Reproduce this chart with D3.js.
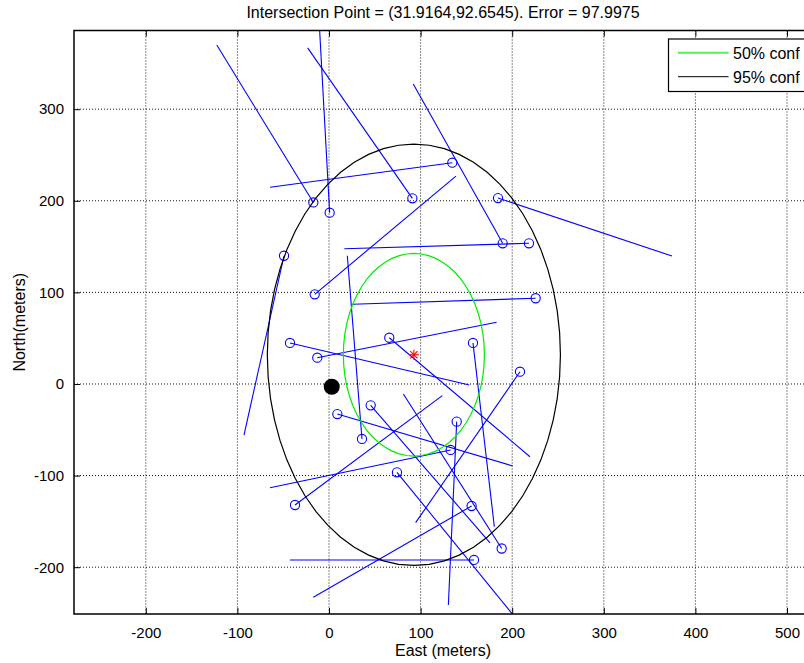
<!DOCTYPE html>
<html>
<head>
<meta charset="utf-8">
<script src="https://cdn.jsdelivr.net/npm/d3@7"></script>
<style>
  html, body { margin: 0; padding: 0; background: #fff; }
  svg { display: block; font-family: "Liberation Sans", Arial, sans-serif; }
</style>
</head>
<body>
<svg id="chart" width="804" height="663"></svg>
<script>
// Sensor positions (East, North) in meters
const sensorX = [-17.1, 0.7, 91, 134.6, 189.6, 184.5, -15.6, 218.3, -49.1, 36, 225.6, -42.6, -12.8,
                 65.8, 157.2, 208.5, 9.1, 45.5, 139.4, 188.5, -37.1, 132.8, 74.2, 155.7, 158.3];
const sensorY = [198.2, 187, 202.7, 241.6, 153.6, 203, 97.9, 153.6, 140, -60, 93.6, 44.8, 28.7,
                 50.5, 44.8, 13.4, -32.8, -23.3, -41.1, -179.6, -132.1, -72, -96.4, -133.2, -192.1];
// Far end of each bearing line
const bearingEndX = [-122.5, -11, -23.3, -64.4, 92, 374.5, 138.6, 16.7, -92.8, 20, 25.5, 153.2, 183,
                     219.4, 180.5, 94.6, 200.5, 175.8, 130.3, 81.2, 123.7, -64.4, 205, -17.1, -42.6];
const bearingEndY = [370, 400, 367, 214.7, 327.5, 139.7, 227, 147.7, -55.7, 140, 87, -1.1, 67.4,
                     -79.4, -155.8, -151.4, -89.5, -173.4, -241.3, -10.9, -12.7, -113.2, -257, -232.9, -192.1];

// Estimated intersection and true emitter location
const estimate = [92.6545, 31.9164];
const target = [3, -3];

// Confidence ellipses around the estimate
const confLabels = ["50% conf", "95% conf"];
const confRadiusX = [77, 160];
const confRadiusY = [110.6, 230];
const confColors = ["#00ee00", "#000000"];

const xTicks = [-200, -100, 0, 100, 200, 300, 400, 500];
const yTicks = [-200, -100, 0, 100, 200, 300];

const titleText = "Intersection Point = (31.9164,92.6545). Error = 97.9975";

const svg = d3.select("#chart");
const pLeft = 74, pTop = 30.5, pRight = 812, pBottom = 614;

const x = d3.scaleLinear().domain([-278.4, 527.3]).range([pLeft, pRight]);
const y = d3.scaleLinear().domain([-251.1, 385.9]).range([pBottom, pTop]);

svg.append("defs").append("clipPath").attr("id", "plotClip")
  .append("rect").attr("x", pLeft).attr("y", pTop).attr("width", pRight - pLeft).attr("height", pBottom - pTop);

// grid
const grid = svg.append("g");
grid.selectAll("line.gx").data(xTicks).join("line")
  .attr("x1", d => x(d)).attr("x2", d => x(d)).attr("y1", pTop).attr("y2", pBottom)
  .attr("stroke", "#111").attr("stroke-width", 1).attr("stroke-dasharray", "1,2");
grid.selectAll("line.gy").data(yTicks).join("line")
  .attr("x1", pLeft).attr("x2", pRight).attr("y1", d => y(d)).attr("y2", d => y(d))
  .attr("stroke", "#111").attr("stroke-width", 1).attr("stroke-dasharray", "1,2");

const plot = svg.append("g").attr("clip-path", "url(#plotClip)");

// bearing lines
plot.selectAll("line.bearing").data(sensorX).join("line")
  .attr("x1", (d, i) => x(sensorX[i])).attr("y1", (d, i) => y(sensorY[i]))
  .attr("x2", (d, i) => x(bearingEndX[i])).attr("y2", (d, i) => y(bearingEndY[i]))
  .attr("stroke", "#0000ff").attr("stroke-width", 1.1);

// sensor markers
plot.selectAll("circle.sensor").data(sensorX).join("circle")
  .attr("cx", (d, i) => x(sensorX[i])).attr("cy", (d, i) => y(sensorY[i]))
  .attr("r", 4.6).attr("fill", "none").attr("stroke", "#0000ff").attr("stroke-width", 1.1);

// confidence ellipses
const angles = d3.range(0, 61).map(k => k / 60 * 2 * Math.PI);
const ellLine = d3.line().x(d => x(d[0])).y(d => y(d[1]));
confLabels.forEach((lab, i) => {
  const pts = angles.map(t => [estimate[0] + confRadiusX[i] * Math.cos(t), estimate[1] + confRadiusY[i] * Math.sin(t)]);
  plot.append("path").attr("d", ellLine(pts)).attr("fill", "none")
    .attr("stroke", confColors[i]).attr("stroke-width", 1.2);
});

// true location
plot.append("circle").attr("cx", x(target[0])).attr("cy", y(target[1])).attr("r", 8).attr("fill", "#000");

// estimate marker (asterisk)
const ex = x(estimate[0]), ey = y(estimate[1]), s = 5;
const star = plot.append("g").attr("stroke", "#ff0000").attr("stroke-width", 1.1);
[[0, s], [s, 0], [s * 0.72, s * 0.72], [s * 0.72, -s * 0.72]].forEach(([dx, dy]) => {
  star.append("line").attr("x1", ex - dx).attr("y1", ey - dy).attr("x2", ex + dx).attr("y2", ey + dy);
});

// axes box and ticks
svg.append("rect").attr("x", pLeft).attr("y", pTop).attr("width", pRight - pLeft).attr("height", pBottom - pTop)
  .attr("fill", "none").attr("stroke", "#000").attr("stroke-width", 1.5);

const plainNum = d => String(d);
const xAxisB = d3.axisBottom(x).tickValues(xTicks).tickSize(-6).tickPadding(10).tickFormat(plainNum);
const xAxisT = d3.axisTop(x).tickValues(xTicks).tickSize(-6).tickFormat("");
const yAxisL = d3.axisLeft(y).tickValues(yTicks).tickSize(-6).tickPadding(10).tickFormat(plainNum);

function styleAxis(g) {
  g.select(".domain").remove();
  g.selectAll(".tick line").attr("stroke", "#000").attr("stroke-width", 1);
  g.selectAll(".tick text").attr("fill", "#000").attr("font-size", 15)
    .attr("font-family", "Liberation Sans, Arial, sans-serif");
}
svg.append("g").attr("transform", `translate(0,${pBottom})`).call(xAxisB).call(styleAxis)
  .selectAll(".tick text").attr("dy", "0.9em");
svg.append("g").attr("transform", `translate(0,${pTop})`).call(xAxisT).call(styleAxis);
svg.append("g").attr("transform", `translate(${pLeft},0)`).call(yAxisL).call(styleAxis);

// labels
svg.append("text").attr("x", (pLeft + pRight) / 2).attr("y", 18).attr("text-anchor", "middle")
  .attr("font-size", 16).text(titleText);
svg.append("text").attr("x", (pLeft + pRight) / 2).attr("y", 656).attr("text-anchor", "middle")
  .attr("font-size", 16).text("East (meters)");
svg.append("text").attr("transform", `translate(25,${(pTop + pBottom) / 2}) rotate(-90)`)
  .attr("text-anchor", "middle").attr("font-size", 16).text("North(meters)");

// legend
const lg = svg.append("g");
lg.append("rect").attr("x", 668.5).attr("y", 39).attr("width", 160).attr("height", 52.5)
  .attr("fill", "#fff").attr("stroke", "#000").attr("stroke-width", 1.2);
confLabels.forEach((lab, i) => {
  const ly = 52.7 + i * 24;
  lg.append("line").attr("x1", 678).attr("x2", 728.5).attr("y1", ly).attr("y2", ly)
    .attr("stroke", i === 0 ? "#55ee55" : "#000").attr("stroke-width", i === 0 ? 2 : 1);
  lg.append("text").attr("x", 733).attr("y", ly + 6).attr("font-size", 16).text(lab);
});
</script>
</body>
</html>
